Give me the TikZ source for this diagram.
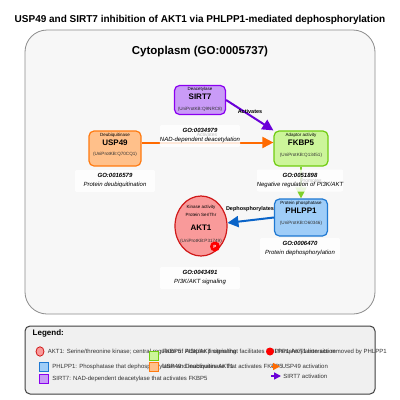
\documentclass[tikz,border=0pt]{standalone}
\usepackage{fontspec}
\setmainfont{Liberation Sans}
\usetikzlibrary{arrows.meta, shapes.geometric}

\definecolor{sirtfill}{HTML}{C99BF7}
\definecolor{sirtline}{HTML}{8A00F0}
\definecolor{uspfill}{HTML}{FFC08A}
\definecolor{uspline}{HTML}{FF7A10}
\definecolor{fkbfill}{HTML}{CCF59A}
\definecolor{fkbline}{HTML}{70CC10}
\definecolor{phlfill}{HTML}{9FCDF8}
\definecolor{phlline}{HTML}{1E78D2}
\definecolor{aktfill}{HTML}{F99A9A}
\definecolor{aktline}{HTML}{D01818}
\definecolor{sirtarrow}{HTML}{6A00D8}
\definecolor{usparrow}{HTML}{FF6A00}
\definecolor{fkbarrow}{HTML}{7FD02A}
\definecolor{phlarrow}{HTML}{0A64C8}

\begin{document}
\begin{tikzpicture}[x=1pt, y=-1pt, line width=0.8pt,
    protein/.style={draw, rounded corners=5pt, line width=1.2pt, inner sep=0pt},
    role/.style={font=\fontsize{4.5}{5}\selectfont},
    pname/.style={font=\fontsize{8}{9}\selectfont\bfseries},
    uniprot/.style={font=\fontsize{4.6}{5}\selectfont, text=black!80},
    gobox/.style={fill=white, fill opacity=0.85, text opacity=1, rounded corners=2pt,
        minimum width=80pt, minimum height=22pt, inner sep=0pt, align=center,
        font=\fontsize{6}{9}\selectfont\itshape},
    edgelabel/.style={font=\fontsize{5.5}{6}\selectfont\bfseries},
    faintlabel/.style={font=\fontsize{5}{6}\selectfont, text=black!25},
    flow/.style={-{Triangle[length=11pt, width=11pt]}, line width=2pt},
    legtext/.style={anchor=west, inner sep=0pt, font=\fontsize{6}{7}\selectfont, text=black!80},
    legsquare/.style={draw, line width=0.8pt, minimum size=9pt, inner sep=0pt},
]
    \useasboundingbox (0,0) rectangle (400,400);
    \fill[white] (0,0) rectangle (400,400);

    % Title
    \node[font=\fontsize{10}{12}\selectfont\bfseries] (title) at (200,20)
        {USP49 and SIRT7 inhibition of AKT1 via PHLPP1-mediated dephosphorylation};

    % Cytoplasm compartment
    \draw[draw=black!45, fill=black!3, line width=0.8pt, rounded corners=22pt] (25,30) rectangle (375,314);
    \node[font=\fontsize{11.5}{13}\selectfont\bfseries] (cytoplasm) at (200,52) {Cytoplasm (GO:0005737)};

    % Proteins
    \node[protein, fill=sirtfill, draw=sirtline, minimum width=51pt, minimum height=29pt] (sirt7) at (200,100) {};
    \node[role] (sirt7-role) at (200,89) {Deacetylase};
    \node[pname] (sirt7-name) at (200,97) {SIRT7};
    \node[uniprot] (sirt7-id) at (200,109) {(UniProtKB:Q9NRC8)};

    \node[protein, fill=uspfill, draw=uspline, minimum width=52pt, minimum height=35pt] (usp49) at (115,148.5) {};
    \node[role] (usp49-role) at (115,135) {Deubiquitinase};
    \node[pname] (usp49-name) at (115,143) {USP49};
    \node[uniprot] (usp49-id) at (115,154) {(UniProtKB:Q70CQ1)};

    \node[protein, fill=fkbfill, draw=fkbline, minimum width=54pt, minimum height=35pt] (fkbp5) at (301,148.5) {};
    \node[role] (fkbp5-role) at (301,135) {Adaptor activity};
    \node[pname] (fkbp5-name) at (301,143) {FKBP5};
    \node[uniprot] (fkbp5-id) at (301,155) {(UniProtKB:Q13451)};

    \node[protein, fill=phlfill, draw=phlline, minimum width=53pt, minimum height=37pt] (phlpp1) at (301,217.5) {};
    \node[role] (phlpp1-role) at (301,203) {Protein phosphatase};
    \node[pname] (phlpp1-name) at (301,211) {PHLPP1};
    \node[uniprot] (phlpp1-id) at (301,223) {(UniProtKB:O60346)};

    \node[ellipse, draw=aktline, fill=aktfill, line width=1.2pt, minimum width=52pt, minimum height=60pt, inner sep=0pt] (akt1) at (201,226) {};
    \node[role] (akt1-role) at (201,207) {Kinase activity};
    \node[role] (akt1-class) at (201,215) {Protein Ser/Thr};
    \node[pname] (akt1-name) at (201,228) {AKT1};
    \node[uniprot] (akt1-id) at (201,241) {(UniProtKB:P31749)};
    \node[circle, fill=red, minimum size=10pt, inner sep=0pt, text=white, font=\fontsize{4.5}{5}\selectfont\bfseries] (akt1-p) at (215,246.5) {P};

    % Interactions
    \draw[flow, sirtarrow] (sirt7.east) -- (fkbp5.north west);
    \draw[flow, usparrow] ([yshift=6pt]usp49.east) -- ([yshift=6pt]fkbp5.west);
    \draw[flow, fkbarrow] (fkbp5.south) -- (phlpp1.north);
    \draw[flow, phlarrow] (phlpp1.west) -- (akt1);

    % GO terms
    \node[gobox] (go-sirt7) at (200,136) {\textbf{GO:0034979}\\NAD-dependent deacetylation};
    \node[gobox] (go-usp49) at (115,181) {\textbf{GO:0016579}\\Protein deubiquitination};
    \node[gobox] (go-fkbp5) at (300,180.5) {\textbf{GO:0051898}\\Negative regulation of PI3K/AKT};
    \node[gobox] (go-phlpp1) at (300,249) {\textbf{GO:0006470}\\Protein dephosphorylation};
    \node[gobox] (go-akt1) at (200,278) {\textbf{GO:0043491}\\PI3K/AKT signaling};

    % Edge labels
    \node[edgelabel] (lbl-sirt7) at (250,112) {Activates};
    \node[faintlabel] (lbl-usp49) at (207,135) {Activates};
    \node[faintlabel] (lbl-fkbp5) at (311,181) {Promotes};
    \node[edgelabel] (lbl-phlpp1) at (250,209) {Dephosphorylates};

    % Legend
    \draw[draw=black!75, fill=black!6, line width=1pt, rounded corners=5pt] (25,326) rectangle (375,394);
    \node[anchor=west, font=\fontsize{8}{9}\selectfont\bfseries] (legend) at (29,333) {Legend:};

    \node[ellipse, draw=aktline, fill=aktfill, line width=0.8pt, minimum width=8pt, minimum height=9.5pt, inner sep=0pt] (leg-akt1) at (40,351.5) {};
    \node[legtext] (leg-akt1-txt) at (47.5,351.5) {AKT1: Serine/threonine kinase; central regulator of PI3K/AKT signaling};
    \node[legsquare, fill=fkbfill, draw=fkbline] (leg-fkbp5) at (154,356) {};
    \node[legtext] (leg-fkbp5-txt) at (162,351.5) {FKBP5: Adaptor protein that facilitates PHLPP1-AKT1 interaction};
    \node[circle, fill=red, minimum size=8pt, inner sep=0pt] (leg-phos) at (270,351.5) {};
    \node[legtext] (leg-phos-txt) at (274.5,351.5) {Phosphorylation site removed by PHLPP1};

    \node[legsquare, fill=phlfill, draw=phlline] (leg-phlpp1) at (44,367) {};
    \node[legtext] (leg-phlpp1-txt) at (52,367.3) {PHLPP1: Phosphatase that dephosphorylates and inactivates AKT1};
    \node[legsquare, fill=uspfill, draw=uspline] (leg-usp49) at (154,367) {};
    \node[legtext] (leg-usp49-txt) at (162,367.3) {USP49: Deubiquitinase that activates FKBP5};
    \coordinate (leg-usp-a) at (271,366.5);
    \coordinate (leg-usp-b) at (280,366.5);
    \draw[-{Triangle[length=7pt, width=7pt]}, usparrow, line width=1.5pt] (leg-usp-a) -- (leg-usp-b);
    \node[legtext] (leg-usparrow-txt) at (281.5,366.8) {USP49 activation};

    \node[legsquare, fill=sirtfill, draw=sirtline] (leg-sirt7) at (44,378.5) {};
    \node[legtext] (leg-sirt7-txt) at (52,378.5) {SIRT7: NAD-dependent deacetylase that activates FKBP5};
    \coordinate (leg-sirt-a) at (271,376);
    \coordinate (leg-sirt-b) at (281,376);
    \draw[-{Triangle[length=7pt, width=7pt]}, sirtarrow, line width=1.5pt] (leg-sirt-a) -- (leg-sirt-b);
    \node[legtext] (leg-sirtarrow-txt) at (283,376.5) {SIRT7 activation};
\end{tikzpicture}
\end{document}
